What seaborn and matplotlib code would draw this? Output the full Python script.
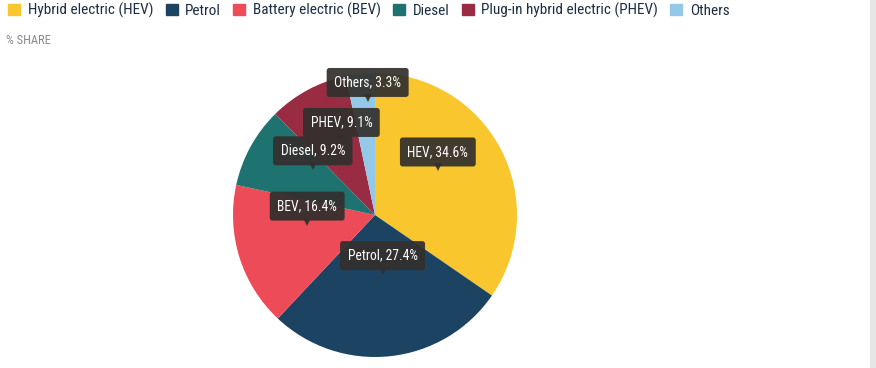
import matplotlib
matplotlib.use("Agg")
import matplotlib.pyplot as plt
import matplotlib.patches as mpatches
from matplotlib import font_manager
import numpy as np
import seaborn as sns

sns.set_theme(style="white")
names = {f.name for f in font_manager.fontManager.ttflist}
main_font = "Roboto Condensed" if "Roboto Condensed" in names else "Roboto"
plt.rcParams["font.family"] = [main_font, "DejaVu Sans"]

categories = ["Hybrid electric (HEV)", "Petrol", "Battery electric (BEV)", "Diesel",
              "Plug-in hybrid electric (PHEV)", "Others"]
short_names = ["HEV", "Petrol", "BEV", "Diesel", "PHEV", "Others"]
shares = [34.6, 27.4, 16.4, 9.2, 9.1, 3.3]
colors = ["#F9C62E", "#1D4363", "#EC4B57", "#1E7371", "#992B42", "#94C8E9"]

W, H = 876, 368
fig = plt.figure(figsize=(W / 100, H / 100), dpi=100)
ax = fig.add_axes([0, 0, 1, 1])

cx, cy, R = 375, H - 215, 142
pal = sns.color_palette(colors)
ax.pie(shares, colors=pal, startangle=90, counterclock=False, center=(cx, cy),
       radius=R, wedgeprops=dict(linewidth=0), frame=True)
ax.set_xlim(0, W)
ax.set_ylim(0, H)
ax.set_aspect("equal")
ax.axis("off")

condensed = main_font == "Roboto Condensed"
lab_size = 9.8 if condensed else 8.5
leg_size = 11 if condensed else 10

# tooltip-style labels
cum = np.cumsum([0] + shares[:-1])
prev_top = None
for name, val, start in zip(short_names, shares, cum):
    mid = np.deg2rad((start + val / 2) / 100 * 360)
    ax_x = cx + 0.5 * R * np.sin(mid)
    ax_y = cy + 0.5 * R * np.cos(mid)
    by = ax_y + 30
    if prev_top is not None and abs(by - prev_top) < 30 and name == "Others":
        by = prev_top + 40
    prev_top = by
    ax.text(ax_x, by, f"{name}, {val}%", color="white", fontsize=lab_size,
            ha="center", va="center", zorder=5,
            bbox=dict(boxstyle="round,pad=0.55,rounding_size=0.2",
                      fc="#33302e", ec="none", alpha=0.93))
    ax.plot(ax_x, by - 15.5, marker="v", ms=6, color="#33302e", alpha=0.93,
            zorder=5, markeredgewidth=0)

# legend
handles = [mpatches.Patch(color=c, label=l) for c, l in zip(pal, categories)]
fig.legend(handles=handles, loc="upper left", bbox_to_anchor=(-0.006, 1.03), ncol=6,
           frameon=False, fontsize=leg_size, handlelength=0.78, handleheight=0.78,
           handletextpad=0.5, columnspacing=0.8, labelcolor="#1c2e44")

fig.text(6 / W, 1 - 40 / H, "% SHARE", fontsize=9, color="#8a8a8a", va="center")

# scrollbar strip at the right edge
ax.axvspan(870, 876, color="#e6e6e6", zorder=0)

fig.savefig("out.png", dpi=100)
